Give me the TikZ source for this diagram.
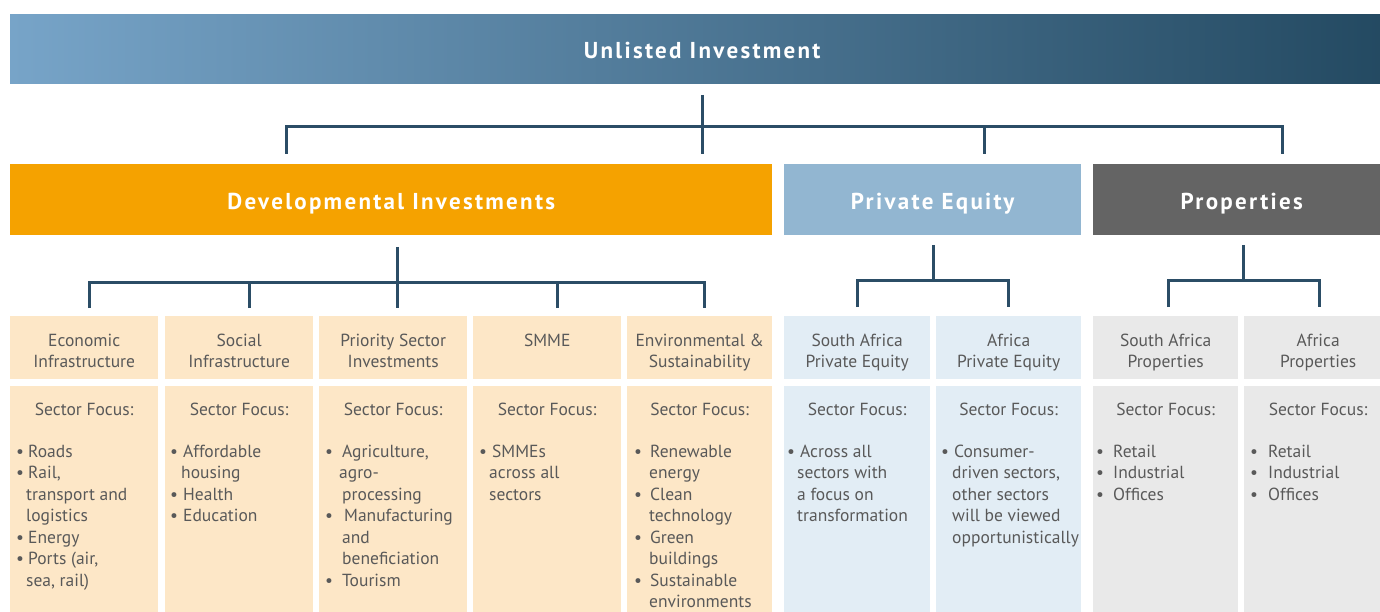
\documentclass[tikz,border=0pt]{standalone}
\usepackage{fontspec}
\setmainfont{PT Sans}
\definecolor{blA}{HTML}{77A4C8}
\definecolor{blB}{HTML}{234961}
\definecolor{devor}{HTML}{F5A200}
\definecolor{peblue}{HTML}{92B6D1}
\definecolor{propgray}{HTML}{646464}
\definecolor{orpale}{HTML}{FDE7C7}
\definecolor{pepale}{HTML}{E2EDF5}
\definecolor{prpale}{HTML}{E9E9E9}
\definecolor{txtgray}{HTML}{595959}
\definecolor{lineblue}{HTML}{2B4D66}
\newcommand\mystrut{\vrule height 16pt width 0pt depth 0pt}
\newcommand\bul[2]{\makebox[#1][l]{•}#2}
\newcommand\cnt[2]{\hspace*{#1}#2}
\begin{document}
\begin{tikzpicture}[x=1pt,y=-1pt,
  bar/.style={anchor=north west, inner sep=0pt, text=white, font=\bfseries\fontsize{23}{23}\selectfont\addfontfeatures{LetterSpace=10}, text height=19pt, text depth=0pt},
  hbox/.style={anchor=north west, inner sep=0pt, minimum height=63pt},
  bbox/.style={anchor=north west, inner sep=0pt, minimum height=226pt},
  txt/.style={text=txtgray, font=\fontsize{17.5}{21.5}\selectfont, inner sep=0pt},
  conn/.style={draw=lineblue, line width=3pt}]
\useasboundingbox (0,0) rectangle (1380,612);

% level 0 and 1
\node[bar, minimum width=1384pt, minimum height=69pt, left color=blA, right color=blB] (top) at (10,14) {Unlisted Investment};
\node[bar, minimum width=762pt, minimum height=71pt, fill=devor] (dev) at (10,164) {Developmental Investments};
\node[bar, minimum width=297pt, minimum height=71pt, fill=peblue] (pe) at (784,164) {Private Equity};
\node[bar, minimum width=297pt, minimum height=71pt, fill=propgray] (prop) at (1093,164) {Properties};

% column boxes
\node[hbox, minimum width=148pt, fill=orpale] (h1) at (10,316) {};
\node[hbox, minimum width=148pt, fill=orpale] (h2) at (165,316) {};
\node[hbox, minimum width=148pt, fill=orpale] (h3) at (319,316) {};
\node[hbox, minimum width=148pt, fill=orpale] (h4) at (473,316) {};
\node[hbox, minimum width=145pt, fill=orpale] (h5) at (627,316) {};
\node[hbox, minimum width=146pt, fill=pepale] (h6) at (784,316) {};
\node[hbox, minimum width=145pt, fill=pepale] (h7) at (936,316) {};
\node[hbox, minimum width=145pt, fill=prpale] (h8) at (1093,316) {};
\node[hbox, minimum width=148pt, fill=prpale] (h9) at (1244,316) {};

\node[bbox, minimum width=148pt, fill=orpale] (b1) at (10,386) {};
\node[bbox, minimum width=148pt, fill=orpale] (b2) at (165,386) {};
\node[bbox, minimum width=148pt, fill=orpale] (b3) at (319,386) {};
\node[bbox, minimum width=148pt, fill=orpale] (b4) at (473,386) {};
\node[bbox, minimum width=145pt, fill=orpale] (b5) at (627,386) {};
\node[bbox, minimum width=146pt, fill=pepale] (b6) at (784,386) {};
\node[bbox, minimum width=145pt, fill=pepale] (b7) at (936,386) {};
\node[bbox, minimum width=145pt, fill=prpale] (b8) at (1093,386) {};
\node[bbox, minimum width=148pt, fill=prpale] (b9) at (1244,386) {};

% header texts
\foreach \n/\t in {1/{Economic\\Infrastructure},2/{Social\\Infrastructure},3/{Priority Sector\\Investments},4/{SMME},5/{Environmental \&\\Sustainability},6/{South Africa\\Private Equity},7/{Africa\\Private Equity},8/{South Africa\\Properties},9/{Africa\\Properties}}
  \node[txt, align=center, anchor=north] (ht\n) at ([yshift=-14pt]h\n.north) {\mystrut\t};

% sector focus
\foreach \n in {1,...,9}
  \node[txt, anchor=base] (sf\n) at ([yshift=-29pt]b\n.north) {Sector Focus:};

% bullet lists
\node[txt, align=left, anchor=north west] (l1) at (16,441) {\mystrut\bul{12pt}{Roads}\\\bul{12pt}{Rail,}\\\cnt{10pt}{transport and}\\\cnt{10pt}{logistics}\\\bul{12pt}{Energy}\\\bul{12pt}{Ports (air,}\\\cnt{10pt}{sea, rail)}};
\node[txt, align=left, anchor=north west] (l2) at (170,441) {\mystrut\bul{13pt}{Affordable}\\\cnt{11pt}{housing}\\\bul{13pt}{Health}\\\bul{13pt}{Education}};
\node[txt, align=left, anchor=north west] (l3) at (325,441) {\mystrut\bul{17pt}{Agriculture,}\\\cnt{14pt}{agro-}\\\cnt{17pt}{processing}\\\bul{19pt}{Manufacturing}\\\cnt{17pt}{and}\\\cnt{17pt}{beneficiation}\\\bul{17pt}{Tourism}};
\node[txt, align=left, anchor=north west] (l4) at (479,441) {\mystrut\bul{13pt}{SMMEs}\\\cnt{10pt}{across all}\\\cnt{10pt}{sectors}};
\node[txt, align=left, anchor=north west] (l5) at (634,441) {\mystrut\bul{16pt}{Renewable}\\\cnt{15pt}{energy}\\\bul{16pt}{Clean}\\\cnt{15pt}{technology}\\\bul{16pt}{Green}\\\cnt{15pt}{buildings}\\\bul{16pt}{Sustainable}\\\cnt{15pt}{environments}};
\node[txt, align=left, anchor=north west] (l6) at (787,441) {\mystrut\bul{13pt}{Across all}\\\cnt{10pt}{sectors with}\\\cnt{10pt}{a focus on}\\\cnt{10pt}{transformation}};
\node[txt, align=left, anchor=north west] (l7) at (941,441) {\mystrut\bul{13pt}{Consumer-}\\\cnt{11pt}{driven sectors,}\\\cnt{11pt}{other sectors}\\\cnt{11pt}{will be viewed}\\\cnt{11pt}{opportunistically}};
\node[txt, align=left, anchor=north west] (l8) at (1096,441) {\mystrut\bul{17pt}{Retail}\\\bul{17pt}{Industrial}\\\bul{17pt}{Offices}};
\node[txt, align=left, anchor=north west] (l9) at (1250,441) {\mystrut\bul{18pt}{Retail}\\\bul{18pt}{Industrial}\\\bul{18pt}{Offices}};

% connectors: top level
\coordinate (t0) at (702,95);
\coordinate (tb) at (702,154);
\coordinate (ta1) at (286,154);
\coordinate (ta2) at (984,154);
\coordinate (ta3) at (1282,154);
\draw[conn] (t0) -- (tb);
\draw[conn] (ta1) |- (ta3 |- 0,127) -- (ta3);
\draw[conn] (ta2) -- (ta2 |- 0,127);

% developmental
\coordinate (d0) at (397,247);
\coordinate (d1) at (89,308);
\coordinate (d2) at (249,308);
\coordinate (d3) at (397,308);
\coordinate (d4) at (557,308);
\coordinate (d5) at (704,308);
\draw[conn] (d0) -- (d3);
\draw[conn] (d1) |- (d5 |- 0,282) -- (d5);
\draw[conn] (d2) -- (d2 |- 0,282);
\draw[conn] (d4) -- (d4 |- 0,282);

% private equity
\coordinate (p0) at (933,245);
\coordinate (p1) at (857,307);
\coordinate (p2) at (1008,307);
\draw[conn] (p0) -- (p0 |- 0,280);
\draw[conn] (p1) |- (p2 |- 0,280) -- (p2);

% properties
\coordinate (r0) at (1243,245);
\coordinate (r1) at (1168,307);
\coordinate (r2) at (1319,307);
\draw[conn] (r0) -- (r0 |- 0,280);
\draw[conn] (r1) |- (r2 |- 0,280) -- (r2);
\end{tikzpicture}
\end{document}
